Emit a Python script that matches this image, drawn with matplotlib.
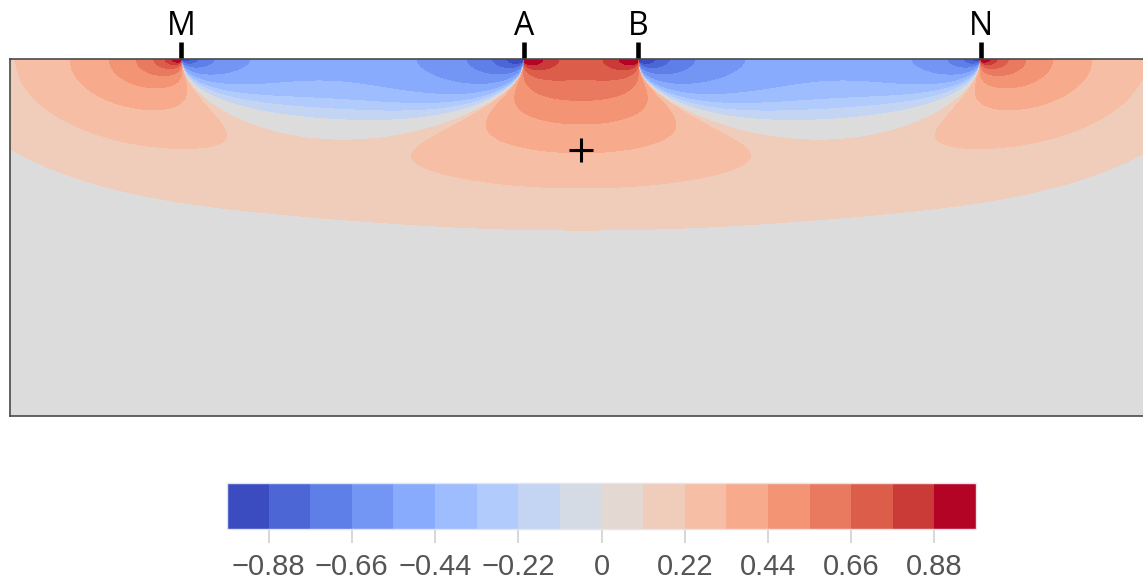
import numpy as np
import matplotlib
matplotlib.use('Agg')
import matplotlib.pyplot as plt
from matplotlib.colors import ListedColormap, BoundaryNorm
from matplotlib.cm import ScalarMappable

# ---- data -----------------------------------------------------------
# electrodes on the surface
electrode_labels = ['M', 'A', 'B', 'N']
electrode_x = [-3.5, -0.5, 0.5, 3.5]

# model section extent
x_extent = [-5.0, 5.0]
depth_extent = 6.26

# colour classes of the normalised sensitivity
levels = np.linspace(-1.0, 1.0, 19)
cbar_tick_values = levels[1::2]
cbar_tick_labels = ['\u22120.88', '\u22120.66', '\u22120.44', '\u22120.22', '0',
                    '0.22', '0.44', '0.66', '0.88']

# positive part: log10|S| mapped linearly (floor, decades per unit)
log_floor = -3.081
log_span = 4.375

# negative part: class boundaries read on the vertical line x = -2 (depth, |value|)
neg_probe_x = -2.0
neg_boundary_depth = [0.0, 0.42, 0.72, 0.89, 1.07]
neg_boundary_value = [0.50, 0.444, 0.333, 0.222, 0.111]

# reference point
marker_x = [0.0]
marker_depth = [1.6]

# ---- sensitivity of the 4-electrode array (homogeneous half-space) ---
ex = dict(zip(electrode_labels, electrode_x))


def sens(X, Z):
    def pair(c, p):
        dxc = X - ex[c]
        dxp = X - ex[p]
        dot = dxc * dxp + Z ** 2
        rc = np.hypot(dxc, Z)
        rp = np.hypot(dxp, Z)
        return dot / (rc ** 3 * rp ** 3)
    return pair('A', 'M') - pair('A', 'N') - pair('B', 'M') + pair('B', 'N')


def calibrated(L, Lc, cv, hi_slope):
    order = np.argsort(Lc)
    Lc, cv = Lc[order], cv[order]
    V = np.interp(L, Lc, cv)
    lo = (cv[1] - cv[0]) / (Lc[1] - Lc[0])
    V = np.where(L < Lc[0], cv[0] + (L - Lc[0]) * lo, V)
    V = np.where(L > Lc[-1], cv[-1] + (L - Lc[-1]) * hi_slope, V)
    return V


xs = np.linspace(x_extent[0], x_extent[1], 1601)
zs = np.linspace(0.004, depth_extent, 900)
X, Z = np.meshgrid(xs, zs)
S = sens(X, Z)
L = np.log10(np.abs(S) + 1e-300)

Vpos = (L - log_floor) / log_span
nd = np.array(neg_boundary_depth) + 0.004
Ln = np.log10(np.abs(sens(np.full_like(nd, neg_probe_x), nd)))
Vneg = calibrated(L, Ln, np.array(neg_boundary_value), 1.0 / log_span)
V = np.where(S >= 0, np.clip(Vpos, 0, 0.9999), -np.clip(Vneg, 0, 0.9999))

# ---- colours ---------------------------------------------------------
ncls = len(levels) - 1
base_colors = plt.get_cmap('coolwarm')(np.linspace(0, 1, ncls))
field_colors = base_colors.copy()
gray = np.array([220, 220, 220, 255]) / 255.0
field_colors[ncls // 2 - 1] = gray
field_colors[ncls // 2] = gray

# ---- figure ----------------------------------------------------------
W, H = 1143, 579
fig = plt.figure(figsize=(W / 100, H / 100), dpi=100)
ax = fig.add_axes([10 / W, (H - 416) / H, 1142 / W, 357 / H])
ax.contourf(X, -Z, V, levels=levels, colors=[tuple(c) for c in field_colors])
ax.set_xlim(x_extent)
ax.set_ylim(-depth_extent, 0)
ax.set_xticks([])
ax.set_yticks([])
for sp in ax.spines.values():
    sp.set_color('#4a4a4a')
    sp.set_linewidth(1.2)

tr = ax.get_xaxis_transform()
for lab, xe in zip(electrode_labels, electrode_x):
    ax.plot([xe, xe], [1.0, 1.0 + 17 / 357], transform=tr, clip_on=False,
            color='black', lw=3.3, solid_capstyle='butt')
    ax.text(xe, 1.0 + 24 / 357, lab, transform=tr, ha='center', va='baseline',
            fontsize=23, family=['Open Sans', 'DejaVu Sans'], color='black')

ax.plot(marker_x, [-d for d in marker_depth], marker='+', color='black',
        markersize=17, mew=2.2, linestyle='none')

# ---- colorbar --------------------------------------------------------
cax = fig.add_axes([227 / W, (H - 529) / H, 749 / W, 46 / H])
sm = ScalarMappable(norm=BoundaryNorm(levels, ncls), cmap=ListedColormap(base_colors))
cb = fig.colorbar(sm, cax=cax, orientation='horizontal', ticks=cbar_tick_values)
cb.set_ticklabels(cbar_tick_labels)
cax.minorticks_off()
cb.outline.set_edgecolor('#e4e4ec')
cb.outline.set_linewidth(1.0)
cax.tick_params(axis='x', length=10, width=1.3, color='#d4d4d4', pad=7,
                labelsize=21, labelcolor='#555555')
for t in cax.get_xticklabels():
    t.set_family(['Liberation Sans', 'DejaVu Sans'])

fig.savefig('out.png', dpi=100)
